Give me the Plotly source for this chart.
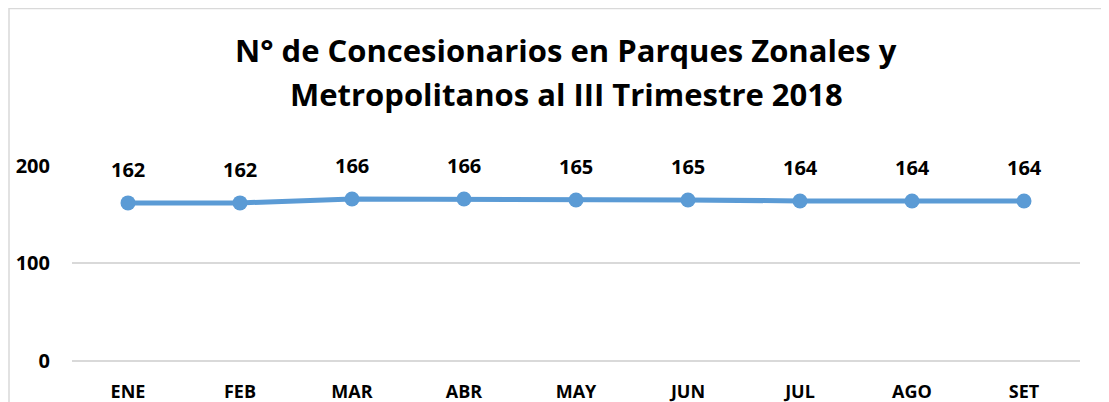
import plotly.graph_objects as go

months = ["ENE", "FEB", "MAR", "ABR", "MAY", "JUN", "JUL", "AGO", "SET"]
values = [162, 162, 166, 166, 165, 165, 164, 164, 164]
y_ticks = [0, 100, 200]
title_lines = ["N° de Concesionarios en Parques Zonales y",
               "Metropolitanos al III Trimestre 2018"]

W, H = 1109, 402
# page body has an 8px offset; layout is set in figure coordinates
Y0, Y1 = -4, 200.8
px_per_unit = 195 / 200
L, R = 64, 37
T = round(158 - (Y1 - 200) * px_per_unit)
B = round(H - (353 + (0 - Y0) * px_per_unit))
pw = W - L - R
ph = H - T - B

FONT = "Open Sans"

fig = go.Figure()
fig.add_trace(go.Scatter(
    x=months, y=values, mode="lines+markers",
    line=dict(color="#5B9BD5", width=5),
    marker=dict(color="#5B9BD5", size=15),
    hoverinfo="skip", showlegend=False,
))

for m, v in zip(months, values):
    fig.add_annotation(x=m, y=v, text=f"<b>{v}</b>", showarrow=False, yshift=33,
                       font=dict(family=FONT, size=20, color="#000000"))

for i, line in enumerate(title_lines):
    fig.add_annotation(xref="paper", yref="paper",
                       x=(558 - L) / pw, y=1 + (T - (42 + 44 * i)) / ph,
                       xanchor="center", yanchor="middle", showarrow=False,
                       text=f"<b>{line}</b>",
                       font=dict(family=FONT, size=31, color="#000000"))

fig.update_layout(
    width=W, height=H,
    margin=dict(l=L, r=R, t=T, b=B),
    paper_bgcolor="white", plot_bgcolor="white",
    xaxis=dict(type="category", showgrid=False, zeroline=False, showline=False,
               automargin=False,
               ticks="outside", ticklen=10, tickcolor="rgba(0,0,0,0)",
               tickmode="array", tickvals=months,
               ticktext=[f"<b>{m}</b>" for m in months],
               tickfont=dict(family=FONT, size=18, color="#000000"),
               range=[-0.5, len(months) - 0.5]),
    yaxis=dict(range=[Y0, Y1], tickmode="array", tickvals=y_ticks,
               ticktext=[f"<b>{t}</b>" for t in y_ticks],
               showgrid=True, gridcolor="#D9D9D9", automargin=False,
               gridwidth=1.5, zeroline=False, showline=False,
               ticks="outside", ticklen=17, tickcolor="rgba(0,0,0,0)",
               tickfont=dict(family=FONT, size=20, color="#000000")),
    font=dict(family=FONT),
    shapes=[dict(type="rect", xref="paper", yref="paper",
                 x0=(1 - L) / pw, x1=(W + 30 - L) / pw,
                 y0=-(B + 30) / ph, y1=1 + (T - 0.5) / ph,
                 line=dict(color="#D9D9D9", width=1.5), fillcolor="rgba(0,0,0,0)", layer="below")],
)

fig.write_html("out.html")
